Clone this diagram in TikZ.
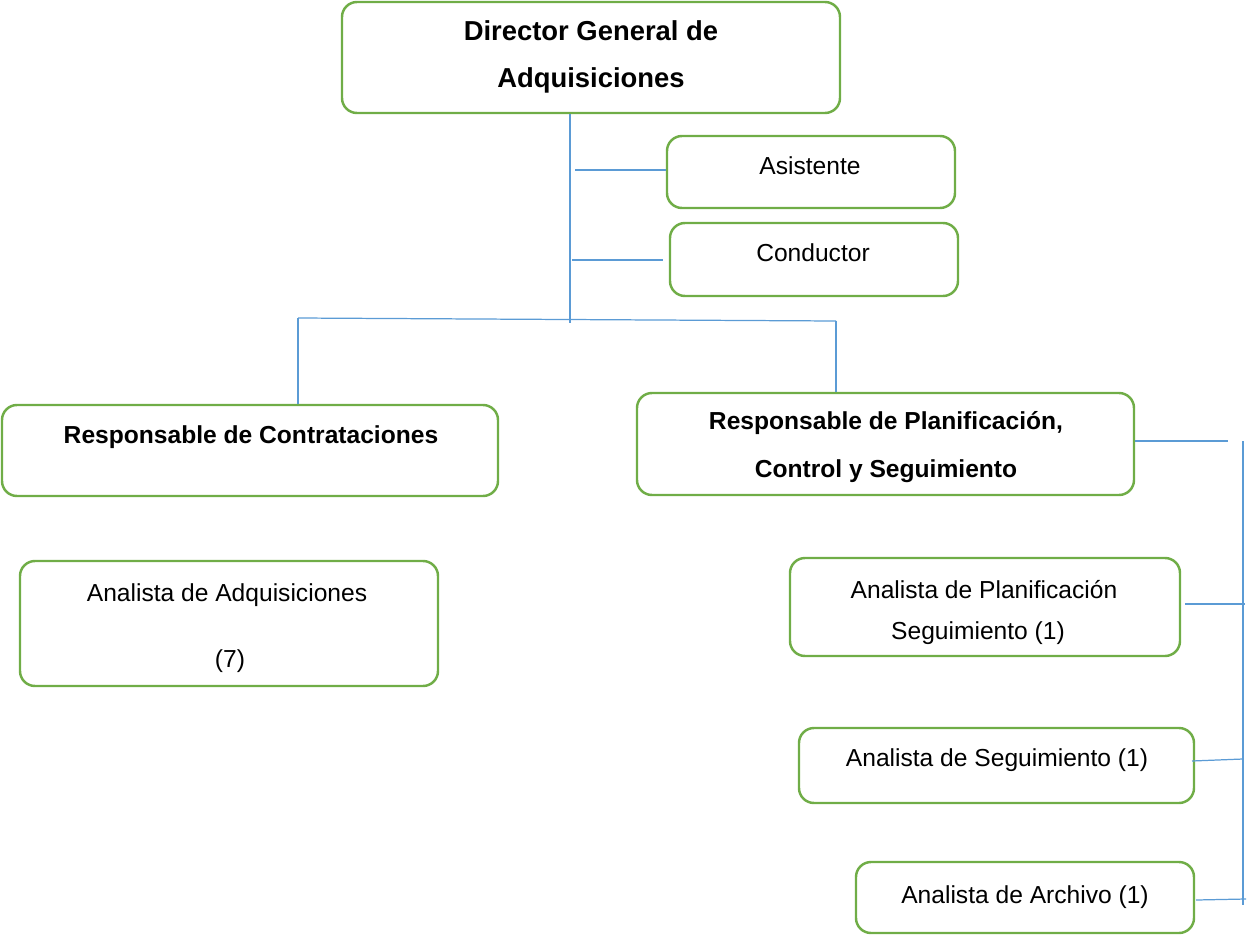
\documentclass[tikz,border=0pt]{standalone}
\usepackage{fontspec}
\setmainfont{Liberation Sans}
\usetikzlibrary{fit,calc}
\definecolor{boxgreen}{RGB}{112,173,71}
\definecolor{linkblue}{RGB}{91,155,213}
\tikzset{
  orgbox/.style={draw=boxgreen, line width=1.4pt, rounded corners=0.3cm, inner sep=0pt},
  conn/.style={draw=linkblue, line width=0.7pt},
  lbl/.style={font=\fontsize{14}{27}\selectfont, align=center, inner sep=0pt},
  blbl/.style={lbl, font=\fontsize{14}{27}\selectfont\bfseries}
}
\begin{document}
\begin{tikzpicture}[x=0.02cm, y=-0.02cm]
\useasboundingbox (0,0) rectangle (1248,937);
% boxes
\node[orgbox, fit={(342,2) (840,113)}] (dir) {};
\node[orgbox, fit={(667,136) (955,208)}] (asis) {};
\node[orgbox, fit={(670,223) (958,296)}] (cond) {};
\node[orgbox, fit={(2,405) (498,496)}] (rc) {};
\node[orgbox, fit={(637,393) (1134,495)}] (rp) {};
\node[orgbox, fit={(20,561) (438,686)}] (aa) {};
\node[orgbox, fit={(790,558) (1180,656)}] (ap) {};
\node[orgbox, fit={(799,728) (1194,803)}] (as) {};
\node[orgbox, fit={(856,862) (1194,933)}] (ar) {};
% texts
\node[blbl, font=\fontsize{15.6}{27}\selectfont\bfseries] (tdir) at (591,57) {Director General de\\Adquisiciones};
\node[lbl] (tasis) at (810,166) {Asistente};
\node[lbl] (tcond) at (813,253) {Conductor};
\node[blbl] (trc) at (251,437) {Responsable de Contrataciones};
\node[blbl] (trp) at (886,447) {Responsable de Planificación,\\Control y Seguimiento};
\node[lbl] (taa1) at (227,595) {Analista de Adquisiciones};
\node[lbl] (taa2) at (230,661) {(7)};
\node[lbl] (tap1) at (984,590) {Analista de Planificación};
\node[lbl] (tap2) at (978,633) {Seguimiento (1)};
\node[lbl] (tas) at (997,760) {Analista de Seguimiento (1)};
\node[lbl] (tar) at (1025,897) {Analista de Archivo (1)};
% connector coordinates
\coordinate (trunk) at (570,323);
\coordinate (ja) at (575,170);
\coordinate (jc) at (572,260);
\coordinate (jce) at (663,260);
\coordinate (hl) at (298,318);
\coordinate (hr) at (836,321);
\coordinate (rj) at (1228,441);
\coordinate (vt) at (1243,441);
\coordinate (vb) at (1243,905);
\coordinate (jp) at (1185,604);
\coordinate (jpe) at (1245,604);
\coordinate (js) at (1192,761);
\coordinate (jse) at (1243,759);
\coordinate (jr) at (1196,900);
\coordinate (jre) at (1246,899);
% connectors
\draw[conn] (trunk |- dir.south) -- (trunk);
\draw[conn, line width=1pt] (ja) -- (ja -| asis.west);
\draw[conn, line width=1pt] (jc) -- (jce);
\draw[conn] (hl) -- (hr);
\draw[conn] (hl) -- (hl |- rc.north);
\draw[conn, line width=1pt] (hr) -- (hr |- rp.north);
\draw[conn, line width=1pt] (rp.east |- rj) -- (rj);
\draw[conn] (vt) -- (vb);
\draw[conn, line width=1pt] (jp) -- (jpe);
\draw[conn] (js) -- (jse);
\draw[conn] (jr) -- (jre);
\end{tikzpicture}
\end{document}
